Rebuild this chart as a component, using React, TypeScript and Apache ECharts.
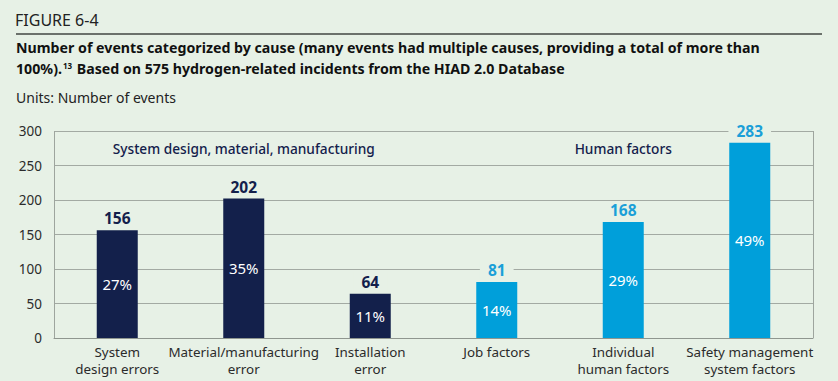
import React, { useEffect, useRef } from "react";
import * as echarts from "echarts";

const categories = [
  "System\ndesign errors",
  "Material/manufacturing\nerror",
  "Installation\nerror",
  "Job factors",
  "Individual\nhuman factors",
  "Safety management\nsystem factors",
];
const counts = [156, 202, 64, 81, 168, 283];
const percents = [27, 35, 11, 14, 29, 49];
const groupOfBar = [0, 0, 0, 1, 1, 1];
const groups = ["System design, material, manufacturing", "Human factors"];
const yTicks = { min: 0, max: 300, interval: 50 };

const BG = "#e7f1e6";
const NAVY = "#13204b";
const BLUE = "#009fda";
const FONT = "'Noto Sans', sans-serif";

export default function App() {
  const ref = useRef<HTMLDivElement>(null);
  useEffect(() => {
    if (!ref.current) return;
    const chart = echarts.init(ref.current, undefined, { renderer: "svg" });
    const colorOf = (i: number) => (groupOfBar[i] === 0 ? NAVY : BLUE);
    chart.setOption({
      animation: false,
      backgroundColor: BG,
      textStyle: { fontFamily: FONT },
      grid: { left: 54, right: 25, top: 131, bottom: 43, containLabel: false },
      xAxis: [
        {
          type: "category",
          data: categories,
          axisLine: { show: true, lineStyle: { color: "#8f968f", width: 1 } },
          axisTick: { show: false },
          axisLabel: {
            interval: 0,
            fontSize: 13.4,
            lineHeight: 17,
            color: "#2b2b2b",
            margin: 5,
            fontFamily: FONT,
          },
          splitLine: {
            show: true,
            interval: (idx: number) => idx === 3,
            lineStyle: { color: "#9ea59e", width: 1 },
          },
        },
        {
          type: "category",
          data: groups,
          position: "top",
          axisLine: { show: false },
          axisTick: { show: false },
          splitLine: { show: false },
          axisLabel: {
            inside: true,
            interval: 0,
            margin: 10,
            fontSize: 13.7,
            fontWeight: 500,
            color: NAVY,
            fontFamily: FONT,
          },
        },
      ],
      yAxis: {
        type: "value",
        min: yTicks.min,
        max: yTicks.max,
        interval: yTicks.interval,
        axisLine: { show: false },
        axisTick: { show: false },
        axisLabel: { fontSize: 13.5, color: "#2b2b2b", margin: 12, fontFamily: FONT },
        splitLine: { lineStyle: { color: "#a3aaa3", width: 1 } },
      },
      series: [
        {
          type: "bar",
          xAxisIndex: 0,
          barWidth: 41,
          data: counts.map((v, i) => ({
            value: v,
            itemStyle: { color: colorOf(i) },
            label: { color: colorOf(i) === NAVY ? NAVY : "#1a9fd8" },
          })),
          label: {
            show: true,
            position: "top",
            distance: 3,
            fontSize: 15.5,
            fontWeight: "bold",
            backgroundColor: BG,
            padding: [1, 8],
            fontFamily: FONT,
          },
          z: 3,
        },
        {
          type: "bar",
          xAxisIndex: 0,
          barWidth: 41,
          barGap: "-100%",
          data: counts,
          itemStyle: { color: "transparent" },
          label: {
            show: true,
            position: "inside",
            formatter: (p: any) => percents[p.dataIndex] + "%",
            color: "#ffffff",
            fontSize: 15,
            fontFamily: FONT,
          },
          z: 4,
        },
      ],
      graphic: [
        {
          type: "text",
          left: 15,
          top: 12,
          style: { text: "FIGURE 6-4", fontSize: 16, fill: "#222", fontFamily: FONT },
        },
        {
          type: "line",
          shape: { x1: 16, y1: 34, x2: 822, y2: 34 },
          style: { stroke: "#6b716b", lineWidth: 2 },
        },
        {
          type: "text",
          left: 16,
          top: 40,
          style: {
            text: "Number of events categorized by cause (many events had multiple causes, providing a total of more than",
            fontSize: 14.2,
            fontWeight: "bold",
            fill: "#111",
            fontFamily: FONT,
          },
        },
        {
          type: "text",
          left: 16,
          top: 61,
          style: {
            text: "{b|100%).}{sup|13}{b| Based on 575 hydrogen-related incidents from the HIAD 2.0 Database}",
            fontFamily: FONT,
            rich: {
              b: { fontSize: 14.2, fontWeight: "bold", fill: "#111", fontFamily: FONT },
              sup: {
                fontSize: 8,
                fontWeight: "bold",
                fill: "#111",
                fontFamily: FONT,
                verticalAlign: "top",
                padding: [0, 1, 6, 1],
              },
            },
          },
        },
        {
          type: "text",
          left: 16,
          top: 90,
          style: { text: "Units: Number of events", fontSize: 14, fill: "#222", fontFamily: FONT },
        },
      ],
    });
    return () => chart.dispose();
  }, []);
  return (
    <div
      ref={ref}
      style={{ position: "absolute", left: 0, top: 0, width: 838, height: 381 }}
    />
  );
}
